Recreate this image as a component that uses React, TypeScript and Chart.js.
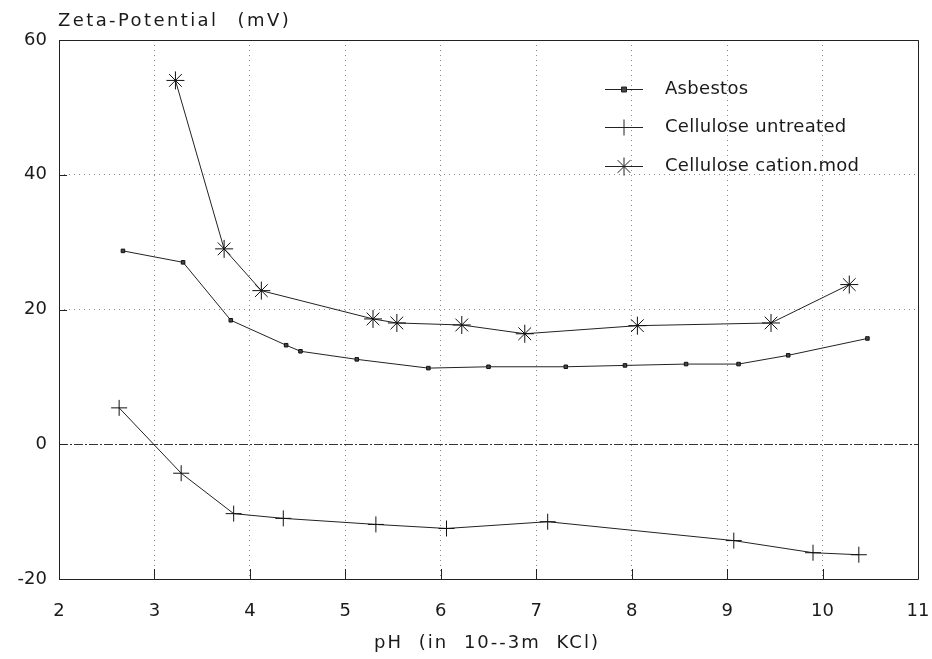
import React, { useEffect, useRef } from "react";
import { Chart, registerables } from "chart.js";

Chart.register(...registerables);

const seriesNames = ["Asbestos", "Cellulose untreated", "Cellulose cation.mod"];

const asbestosX = [2.67, 3.3, 3.8, 4.38, 4.53, 5.12, 5.87, 6.5, 7.31, 7.93, 8.57, 9.12, 9.64, 10.47];
const asbestosY = [28.7, 27.0, 18.4, 14.7, 13.8, 12.6, 11.3, 11.5, 11.5, 11.7, 11.9, 11.9, 13.2, 15.7];

const untreatedX = [2.63, 3.28, 3.83, 4.35, 5.32, 6.06, 7.12, 9.07, 9.9, 10.38];
const untreatedY = [5.4, -4.3, -10.3, -11.0, -11.9, -12.5, -11.5, -14.3, -16.1, -16.4];

const cationX = [3.22, 3.73, 4.12, 5.29, 5.54, 6.22, 6.88, 8.06, 9.46, 10.28];
const cationY = [54.0, 29.0, 22.8, 18.6, 18.0, 17.7, 16.4, 17.6, 18.0, 23.7];

const xTicks = [2, 3, 4, 5, 6, 7, 8, 9, 10, 11];
const yTicks = [-20, 0, 20, 40, 60];

const xTitle = "pH (in 10--3m KCl)";
const yTitle = "Zeta-Potential (mV)";

const FONT = '"DejaVu Sans", sans-serif';
const INK = "#1a1a1a";

const zip = (xs: number[], ys: number[]) => xs.map((x, i) => ({ x, y: ys[i] }));

function drawMarker(ctx: CanvasRenderingContext2D, style: string, x: number, y: number, r: number) {
  ctx.beginPath();
  if (style === "rect") {
    ctx.fillStyle = "#444";
    ctx.rect(x - r, y - r, 2 * r, 2 * r);
    ctx.fill();
    ctx.stroke();
    return;
  }
  ctx.moveTo(x - r, y);
  ctx.lineTo(x + r, y);
  ctx.moveTo(x, y - r);
  ctx.lineTo(x, y + r);
  if (style === "star") {
    const d = r * Math.SQRT1_2;
    ctx.moveTo(x - d, y - d);
    ctx.lineTo(x + d, y + d);
    ctx.moveTo(x - d, y + d);
    ctx.lineTo(x + d, y - d);
  }
  ctx.stroke();
}

const framePlugin = {
  id: "frame",
  beforeDatasetsDraw(chart: any) {
    const { ctx, chartArea, scales } = chart;
    const { left, right, top, bottom } = chartArea;
    const x = scales.x;
    const y = scales.y;
    ctx.save();
    const y0 = Math.round(y.getPixelForValue(0)) + 0.5;
    ctx.strokeStyle = "#333";
    ctx.lineWidth = 1;
    ctx.setLineDash([9, 2, 2, 2]);
    ctx.beginPath();
    ctx.moveTo(left, y0);
    ctx.lineTo(right, y0);
    ctx.stroke();
    ctx.setLineDash([]);
    ctx.strokeStyle = "#222";
    ctx.beginPath();
    ctx.rect(Math.round(left) + 0.5, Math.round(top) + 0.5, Math.round(right - left), Math.round(bottom - top));
    ctx.stroke();
    ctx.beginPath();
    xTicks.forEach((v) => {
      const px = Math.round(x.getPixelForValue(v)) + 0.5;
      ctx.moveTo(px, bottom);
      ctx.lineTo(px, bottom - 10);
    });
    yTicks.forEach((v) => {
      const py = Math.round(y.getPixelForValue(v)) + 0.5;
      ctx.moveTo(left, py);
      ctx.lineTo(left + 8, py);
    });
    ctx.stroke();
    ctx.restore();
  },
  afterDraw(chart: any) {
    const { ctx, chartArea } = chart;
    const { left, right, top, bottom } = chartArea;
    const c = ctx as any;
    ctx.save();
    ctx.fillStyle = INK;
    ctx.textBaseline = "middle";
    ctx.textAlign = "left";
    ctx.font = `18px ${FONT}`;
    c.letterSpacing = "2.4px";
    c.wordSpacing = "11px";
    ctx.fillText(yTitle, left - 1, top - 19);

    c.letterSpacing = "2px";
    c.wordSpacing = "8px";
    ctx.textAlign = "center";
    ctx.fillText(xTitle, (left + right) / 2 - 1.5, bottom + 64);

    c.letterSpacing = "0.3px";
    c.wordSpacing = "0px";
    ctx.textAlign = "left";
    const styles = ["rect", "cross", "star"];
    const radii = [2.5, 8, 9];
    const rows = [89, 127, 166];
    seriesNames.forEach((name, i) => {
      const yy = rows[i] + 0.5;
      const x0 = left + 546;
      ctx.strokeStyle = "#222";
      ctx.lineWidth = 1;
      ctx.beginPath();
      ctx.moveTo(x0, yy);
      ctx.lineTo(x0 + 38, yy);
      ctx.stroke();
      drawMarker(ctx, styles[i], x0 + 19, yy, radii[i]);
      ctx.fillStyle = INK;
      ctx.fillText(name, left + 606, yy);
    });
    ctx.restore();
  },
};

export default function App() {
  const ref = useRef<HTMLCanvasElement | null>(null);
  useEffect(() => {
    if (!ref.current) return;
    const common = {
      showLine: true,
      borderColor: "#222",
      borderWidth: 1,
      pointBorderColor: "#111",
      pointBorderWidth: 1,
      tension: 0,
    };
    const chart = new Chart(ref.current, {
      type: "scatter",
      data: {
        datasets: [
          {
            ...common,
            label: seriesNames[0],
            data: zip(asbestosX, asbestosY),
            pointStyle: "rect",
            pointRadius: 2.5,
            pointBackgroundColor: "#444",
          },
          {
            ...common,
            label: seriesNames[1],
            data: zip(untreatedX, untreatedY),
            pointStyle: "cross",
            pointRadius: 8,
          },
          {
            ...common,
            label: seriesNames[2],
            data: zip(cationX, cationY),
            pointStyle: "star",
            pointRadius: 9,
          },
        ],
      },
      options: {
        animation: false,
        responsive: true,
        maintainAspectRatio: false,
        layout: { padding: { top: 40, right: 14, left: 0, bottom: 0 } },
        plugins: {
          legend: { display: false },
          tooltip: { enabled: false },
        },
        scales: {
          x: {
            type: "linear",
            min: 2,
            max: 11,
            afterFit: (s: any) => {
              s.height = 80;
              s.paddingLeft = 0;
              s.paddingRight = 0;
            },
            afterBuildTicks: (s: any) => {
              s.ticks = xTicks.map((v) => ({ value: v }));
            },
            grid: { color: "#8a8a8a", drawTicks: false, lineWidth: 1 },
            border: { display: false, dash: [1, 4] },
            ticks: { color: INK, font: { family: FONT, size: 18 }, padding: 22 },
            title: { display: false },
          },
          y: {
            type: "linear",
            min: -20,
            max: 60,
            afterFit: (s: any) => {
              s.width = 59;
              s.paddingTop = 0;
              s.paddingBottom = 0;
            },
            afterBuildTicks: (s: any) => {
              s.ticks = yTicks.map((v) => ({ value: v }));
            },
            grid: {
              color: (c: any) => (c.tick && c.tick.value === 0 ? "rgba(0,0,0,0)" : "#8a8a8a"),
              drawTicks: false,
              lineWidth: 1,
            },
            border: { display: false, dash: [1, 4] },
            ticks: { color: INK, font: { family: FONT, size: 18 }, padding: 12 },
          },
        },
      },
      plugins: [framePlugin],
    } as any);
    return () => chart.destroy();
  }, []);
  return (
    <div style={{ position: "absolute", left: 0, top: 0, width: 932, height: 659, background: "#fff" }}>
      <canvas ref={ref} />
    </div>
  );
}
